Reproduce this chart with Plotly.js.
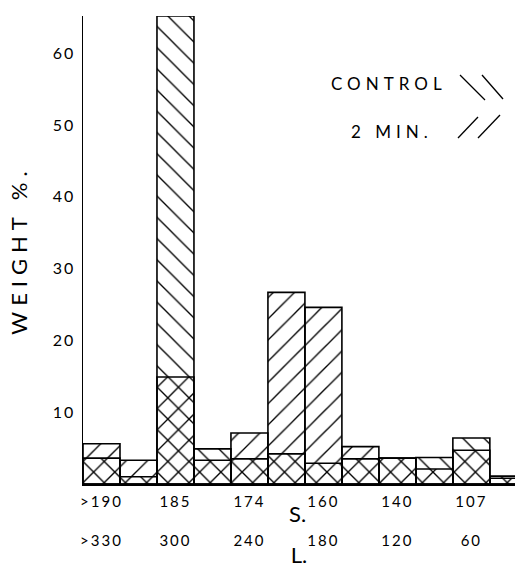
<!DOCTYPE html>
<html>
<head>
<meta charset="utf-8">
<script src="https://cdn.plot.ly/plotly-3.0.1.min.js"></script>
<style>
  html, body { margin: 0; padding: 0; background: #fff; }
  .ytick text, .xtick text { letter-spacing: 2px; }
  .ytitle { letter-spacing: 6px; }
  .annotation-text { letter-spacing: 5px; }
  .annotation[data-index="2"] .annotation-text { letter-spacing: 0px; }
</style>
</head>
<body>
<div id="chart" style="width:515px;height:568px;"></div>
<script>
// Bins (left to right), size classes
const bins = [0, 1, 2, 3, 4, 5, 6, 7, 8, 9, 10, 11];
// Weight % per bin
const control = [3.6, 1.0, 65.2, 4.9, 3.5, 4.2, 2.9, 3.5, 3.6, 3.7, 6.4, 1.1];
const twoMin  = [5.6, 3.3, 14.9, 3.3, 7.1, 26.7, 24.6, 5.2, 3.6, 2.1, 4.7, 0.8];
// Tick labels
const tickBins = [0, 2, 4, 6, 8, 10];
const sLabels = ['>190', '185', '174', '160', '140', '107'];
const lLabels = ['>330', '300', '240', '180', '120', '60'];
const yTicks = [10, 20, 30, 40, 50, 60];

const FONT = 'Lato, "DejaVu Sans", sans-serif';
const INK = '#000';

function esc(s) { return s.replace(/>/g, '&gt;'); }

const hatch = (shape) => ({
  shape: shape, size: 15, solidity: 0.09,
  fgcolor: INK, bgcolor: 'rgba(0,0,0,0)', fillmode: 'replace'
});

const traces = [
  {
    type: 'bar', name: 'CONTROL', x: bins, y: control, width: 1,
    marker: { color: 'rgba(0,0,0,0)', pattern: hatch('\\'), line: { color: INK, width: 1.6 } },
    hoverinfo: 'skip'
  },
  {
    type: 'bar', name: '2 MIN.', x: bins, y: twoMin, width: 1,
    marker: { color: 'rgba(0,0,0,0)', pattern: hatch('/'), line: { color: INK, width: 1.6 } },
    hoverinfo: 'skip'
  }
];

// pixel -> paper helpers for legend decoration
const L = 83, T = 16, W = 432, H = 468;
const px = (v) => (v - L) / W;
const py = (v) => (T + H - v) / H;
const seg = (x0, y0, x1, y1) => ({
  type: 'line', xref: 'paper', yref: 'paper',
  x0: px(x0), y0: py(y0), x1: px(x1), y1: py(y1),
  line: { color: INK, width: 1.3 }
});

const f = (size) => ({ size: size, family: FONT, color: INK, weight: 400 });

const layout = {
  width: 515, height: 568,
  margin: { l: L, r: 0, t: T, b: 568 - T - H, pad: 0 },
  paper_bgcolor: '#fff', plot_bgcolor: '#fff',
  barmode: 'overlay', bargap: 0, showlegend: false,
  font: f(15),
  xaxis: {
    range: [-0.5, 11.18], showgrid: false, zeroline: false,
    showline: true, linecolor: INK, linewidth: 2, ticks: '',
    tickvals: tickBins,
    ticktext: tickBins.map((b, i) => esc(sLabels[i]) + '<br><br>' + esc(lLabels[i])),
    tickfont: f(15),
    ticklabelstandoff: 3,
    title: { text: 'L.', font: f(22), standoff: 0 }
  },
  yaxis: {
    range: [0, 65.2], showgrid: false, zeroline: false,
    showline: true, linecolor: INK, linewidth: 1.4, ticks: '',
    tickvals: yTicks,
    tickfont: f(16),
    ticklabelstandoff: 3,
    title: { text: 'WEIGHT %.', font: f(22), standoff: 19 }
  },
  annotations: [
    { xref: 'paper', yref: 'paper', x: px(389), y: py(83), text: 'CONTROL', showarrow: false,
      xanchor: 'center', yanchor: 'middle', font: f(17) },
    { xref: 'paper', yref: 'paper', x: px(392), y: py(131), text: '2 MIN.', showarrow: false,
      xanchor: 'center', yanchor: 'middle', font: f(17) },
    { xref: 'paper', yref: 'paper', x: px(297), y: py(513), text: 'S.', showarrow: false,
      xanchor: 'center', yanchor: 'middle', font: f(22) }
  ],
  shapes: [
    seg(460, 75, 485, 100), seg(482, 75, 503, 99),
    seg(458, 138, 478, 117), seg(478, 138, 500, 115)
  ]
};

Plotly.newPlot('chart', traces, layout, { displayModeBar: false, staticPlot: true });
</script>
</body>
</html>
